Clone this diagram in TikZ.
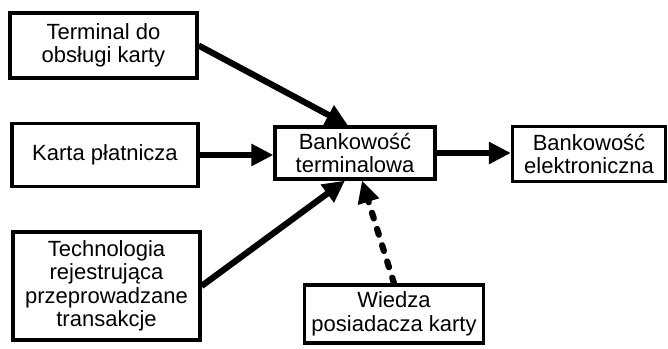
\documentclass[tikz,border=0pt]{standalone}
\usepackage{fontspec}
\setmainfont{Liberation Sans}
\usepackage{tikz}
\usetikzlibrary{arrows.meta,calc}

\tikzset{
  box/.style={draw, line width=3.2pt, align=center, inner sep=0pt,
    font=\fontsize{22}{23.5}\selectfont},
  conn/.style={line width=6.2pt, -{Triangle[length=22pt,width=21pt]}},
  dotconn/.style={conn, line cap=round, dash pattern=on 6pt off 11pt}
}

\begin{document}
\begin{tikzpicture}[x=1pt,y=-1pt]
\useasboundingbox (0,0) rectangle (668,348);
\node[box, minimum width=187, minimum height=65] (term) at (103.5,45.5) {Terminal do\\obsługi karty};
\node[box, minimum width=186, minimum height=63] (karta) at (105,155) {Karta płatnicza};
\node[box, minimum width=187, minimum height=108] (tech) at (106.5,286) {Technologia\\rejestrująca\\przeprowadzane\\transakcje};
\node[box, minimum width=160, minimum height=52] (bterm) at (355,153) {Bankowość\\terminalowa};
\node[box, minimum width=153, minimum height=55] (belek) at (589,154) {Bankowość\\elektroniczna};
\node[box, minimum width=179, minimum height=58] (wiedza) at (394,314) {Wiedza\\posiadacza karty};

\draw[conn] (term.east) -- ([xshift=-7]bterm.north);
\draw[conn] (karta.east) -- (karta.east -| bterm.west);
\draw[conn] (tech.east) -- ([xshift=-10]bterm.south);
\draw[dotconn] (wiedza.north) -- ([xshift=7]bterm.south);
\draw[conn] (bterm.east) -- (bterm.east -| belek.west);
\end{tikzpicture}
\end{document}
